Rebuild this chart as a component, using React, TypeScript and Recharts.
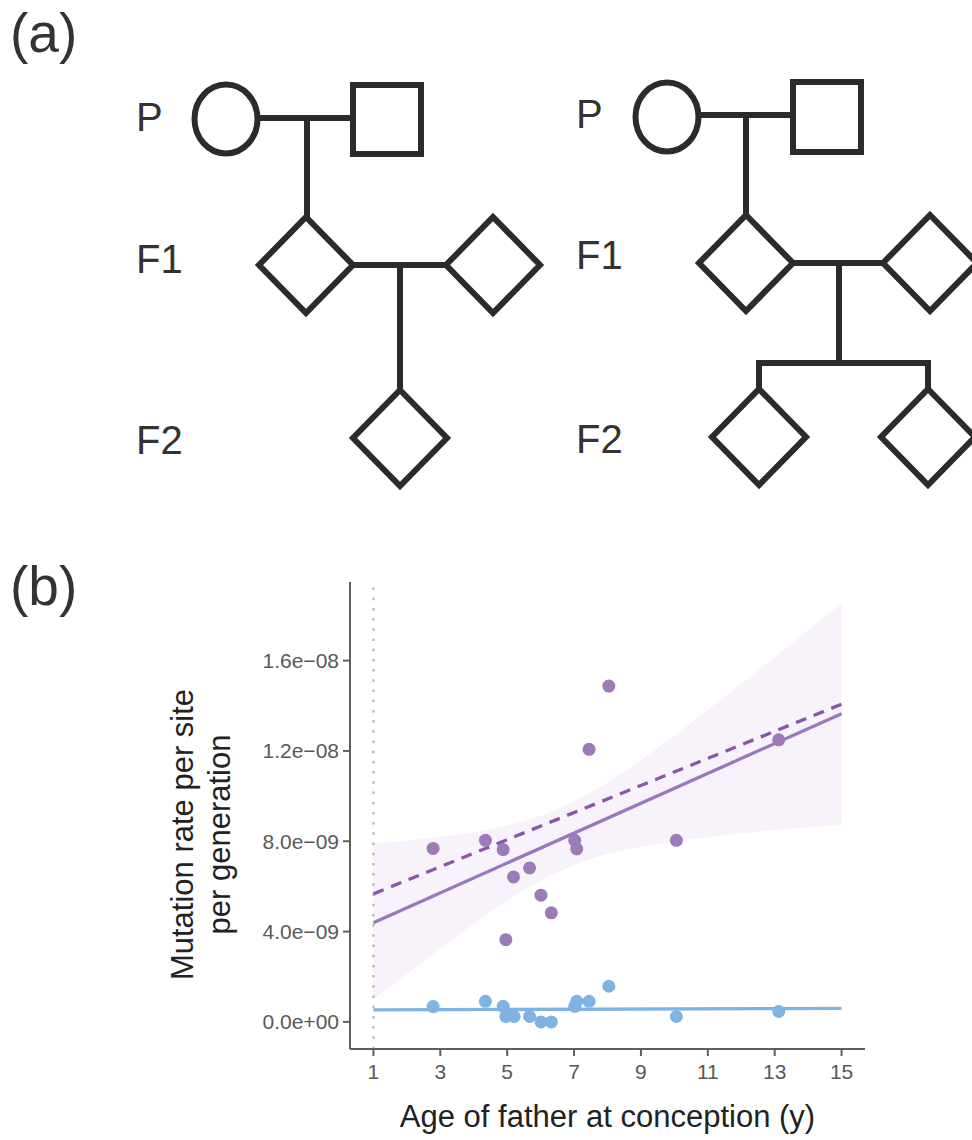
import React from 'react';
import { ComposedChart, XAxis, YAxis, Area, Line, Scatter, ReferenceLine, Label } from 'recharts';

// ---- data ----
const xTicks = [1, 3, 5, 7, 9, 11, 13, 15];
const yTicks = [0, 4e-9, 8e-9, 1.2e-8, 1.6e-8];
const yTickLabels = ['0.0e+00', '4.0e\u221209', '8.0e\u221209', '1.2e\u221208', '1.6e\u221208'];

const purpleAge = [2.785, 4.35, 4.88, 4.96, 5.19, 5.67, 6.01, 6.32, 7.02, 7.08, 7.45, 8.04, 10.06, 13.12];
const purpleRate = [7.68e-9, 8.04e-9, 7.63e-9, 3.64e-9, 6.42e-9, 6.82e-9, 5.61e-9, 4.83e-9, 8.04e-9, 7.66e-9, 12.07e-9, 14.87e-9, 8.04e-9, 12.49e-9];

const blueAge = [2.785, 4.35, 4.88, 4.96, 5.21, 5.67, 6.01, 6.32, 7.02, 7.08, 7.45, 8.04, 10.06, 13.12];
const blueRate = [0.68e-9, 0.91e-9, 0.69e-9, 0.24e-9, 0.24e-9, 0.24e-9, 0.0, 0.0, 0.69e-9, 0.91e-9, 0.91e-9, 1.58e-9, 0.24e-9, 0.46e-9];

const bandAge = [1, 2, 3, 4, 5, 6, 7, 8, 9, 10, 11, 12, 13, 14, 15];
const bandLow = [1.0e-9, 2.12e-9, 3.25e-9, 4.34e-9, 5.37e-9, 6.26e-9, 6.95e-9, 7.43e-9, 7.76e-9, 7.99e-9, 8.18e-9, 8.35e-9, 8.49e-9, 8.62e-9, 8.74e-9];
const bandHigh = [7.9e-9, 8.02e-9, 8.19e-9, 8.41e-9, 8.70e-9, 9.13e-9, 9.76e-9, 10.61e-9, 11.60e-9, 12.68e-9, 13.82e-9, 14.98e-9, 16.15e-9, 17.34e-9, 18.55e-9];

const fitAge = [1, 15];
const fitSolid = [4.39e-9, 13.65e-9];
const fitDashed = [5.67e-9, 14.07e-9];
const fitBlue = [0.53e-9, 0.60e-9];

const rows = bandAge.map((x, i) => {
  const j = fitAge.indexOf(x);
  return {
    x,
    band: [bandLow[i], bandHigh[i]],
    solid: j >= 0 ? fitSolid[j] : null,
    dashed: j >= 0 ? fitDashed[j] : null,
    blue: j >= 0 ? fitBlue[j] : null,
  };
});
const purplePts = purpleAge.map((x, i) => ({ x, y: purpleRate[i] }));
const bluePts = blueAge.map((x, i) => ({ x, y: blueRate[i] }));

// ---- styles ----
const FONT = 'Liberation Sans, Arial, Helvetica, sans-serif';
const PURPLE = '#9B7BB8';
const PURPLE_LINE = '#9A78BE';
const PURPLE_DASH = '#8857A8';
const BLUE = '#7EB3E2';
const AXIS = '#5F5F5F';
const INK = '#2B2B2B';

const dot = (color: string) => (props: any) => (
  <circle cx={props.cx} cy={props.cy} r={6.5} fill={color} stroke="none" />
);

const Diamond = ({ cx, cy }: { cx: number; cy: number }) => (
  <polygon
    points={`${cx},${cy - 48} ${cx + 47},${cy} ${cx},${cy + 48} ${cx - 47},${cy}`}
    fill="none"
    stroke={INK}
    strokeWidth={6}
    strokeLinejoin="miter"
  />
);

const Pedigrees = () => (
  <svg width={972} height={1140} style={{ position: 'absolute', left: 0, top: 0, pointerEvents: 'none' }}>
    <g fontFamily={FONT} fill="#333">
      <text x={10} y={52} fontSize={55}>(a)</text>
      <text x={10} y={605} fontSize={55}>(b)</text>
      <text x={136} y={131} fontSize={40}>P</text>
      <text x={136} y={273} fontSize={40}>F1</text>
      <text x={136} y={454} fontSize={40}>F2</text>
      <text x={576} y={128} fontSize={40}>P</text>
      <text x={576} y={269} fontSize={40}>F1</text>
      <text x={576} y={453} fontSize={40}>F2</text>
    </g>
    {/* left pedigree */}
    <g stroke={INK} strokeWidth={6} fill="none">
      <ellipse cx={226} cy={119} rx={31.5} ry={34.5} />
      <rect x={353} y={85} width={68} height={69} />
      <line x1={257} y1={118} x2={353} y2={118} />
      <line x1={307} y1={118} x2={307} y2={217} />
      <line x1={353} y1={265} x2={446} y2={265} />
      <line x1={400} y1={265} x2={400} y2={390} />
    </g>
    <Diamond cx={306} cy={265} />
    <Diamond cx={493} cy={265} />
    <Diamond cx={400} cy={438} />
    {/* right pedigree */}
    <g stroke={INK} strokeWidth={6} fill="none">
      <ellipse cx={667} cy={117} rx={31.5} ry={34.5} />
      <rect x={793} y={82} width={68} height={70} />
      <line x1={698} y1={115} x2={793} y2={115} />
      <line x1={746} y1={115} x2={746} y2={215} />
      <line x1={793} y1={263} x2={883} y2={263} />
      <line x1={839} y1={263} x2={839} y2={363} />
      <line x1={756} y1={363} x2={931} y2={363} />
      <line x1={759} y1={363} x2={759} y2={390} />
      <line x1={928} y1={363} x2={928} y2={390} />
    </g>
    <Diamond cx={746} cy={263} />
    <Diamond cx={930} cy={263} />
    <Diamond cx={759} cy={437} />
    <Diamond cx={928} cy={437} />
  </svg>
);

const YTitle = (props: any) => {
  const vb = props.viewBox || {};
  const cx = 193;
  const cy = (vb.y || 582) + (vb.height || 467) / 2 + 19;
  return (
    <text
      x={cx}
      y={cy}
      transform={`rotate(-90 ${cx} ${cy})`}
      textAnchor="middle"
      fontFamily={FONT}
      fontSize={31}
      fill="#222"
    >
      <tspan x={cx} dy={0}>Mutation rate per site</tspan>
      <tspan x={cx} dy={37}>per generation</tspan>
    </text>
  );
};

const XTitle = (props: any) => {
  const vb = props.viewBox || {};
  const cx = (vb.x || 350) + (vb.width || 515) / 2;
  return (
    <text x={cx} y={1127} textAnchor="middle" fontFamily={FONT} fontSize={31} fill="#222">
      Age of father at conception (y)
    </text>
  );
};

export default function App() {
  return (
    <div style={{ position: 'absolute', left: 0, top: 0, width: 972, height: 1140, background: '#fff' }}>
      <ComposedChart
        width={972}
        height={1140}
        data={rows}
        margin={{ top: 582, right: 107, bottom: 0, left: 0 }}
      >
        <XAxis
          type="number"
          dataKey="x"
          domain={[0.3, 15.7]}
          ticks={xTicks}
          allowDataOverflow
          height={91}
          axisLine={{ stroke: AXIS, strokeWidth: 2 }}
          tickLine={{ stroke: AXIS, strokeWidth: 2 }}
          tickSize={7}
          tickMargin={8}
          tick={{ fontSize: 21, fill: '#595959', fontFamily: FONT }}
        >
          <Label content={XTitle} />
        </XAxis>
        <YAxis
          type="number"
          domain={[-1.2e-9, 19.48e-9]}
          ticks={yTicks}
          allowDataOverflow
          width={350}
          axisLine={{ stroke: AXIS, strokeWidth: 2 }}
          tickLine={{ stroke: AXIS, strokeWidth: 2 }}
          tickSize={7}
          tickMargin={4}
          tick={{ fontSize: 21, fill: '#595959', fontFamily: FONT }}
          tickFormatter={(v: number) => {
            const i = yTicks.findIndex((t) => Math.abs(t - v) < 1e-12);
            return i >= 0 ? yTickLabels[i] : '';
          }}
        >
          <Label content={YTitle} />
        </YAxis>
        <Area
          dataKey="band"
          type="monotone"
          stroke="none"
          fill="#F8F2FA"
          fillOpacity={1}
          isAnimationActive={false}
          activeDot={false}
          dot={false}
        />
        <ReferenceLine x={1} stroke="#B5B5B5" strokeWidth={2.2} strokeDasharray="2.5 7.7" />
        <Line dataKey="blue" connectNulls stroke={BLUE} strokeWidth={3.3} dot={false} activeDot={false} isAnimationActive={false} />
        <Line dataKey="solid" connectNulls stroke={PURPLE_LINE} strokeWidth={3.3} dot={false} activeDot={false} isAnimationActive={false} />
        <Line dataKey="dashed" connectNulls stroke={PURPLE_DASH} strokeWidth={3.3} strokeDasharray="11 8" dot={false} activeDot={false} isAnimationActive={false} />
        <Scatter data={purplePts} dataKey="y" shape={dot(PURPLE)} isAnimationActive={false} />
        <Scatter data={bluePts} dataKey="y" shape={dot(BLUE)} isAnimationActive={false} />
      </ComposedChart>
      <Pedigrees />
    </div>
  );
}
